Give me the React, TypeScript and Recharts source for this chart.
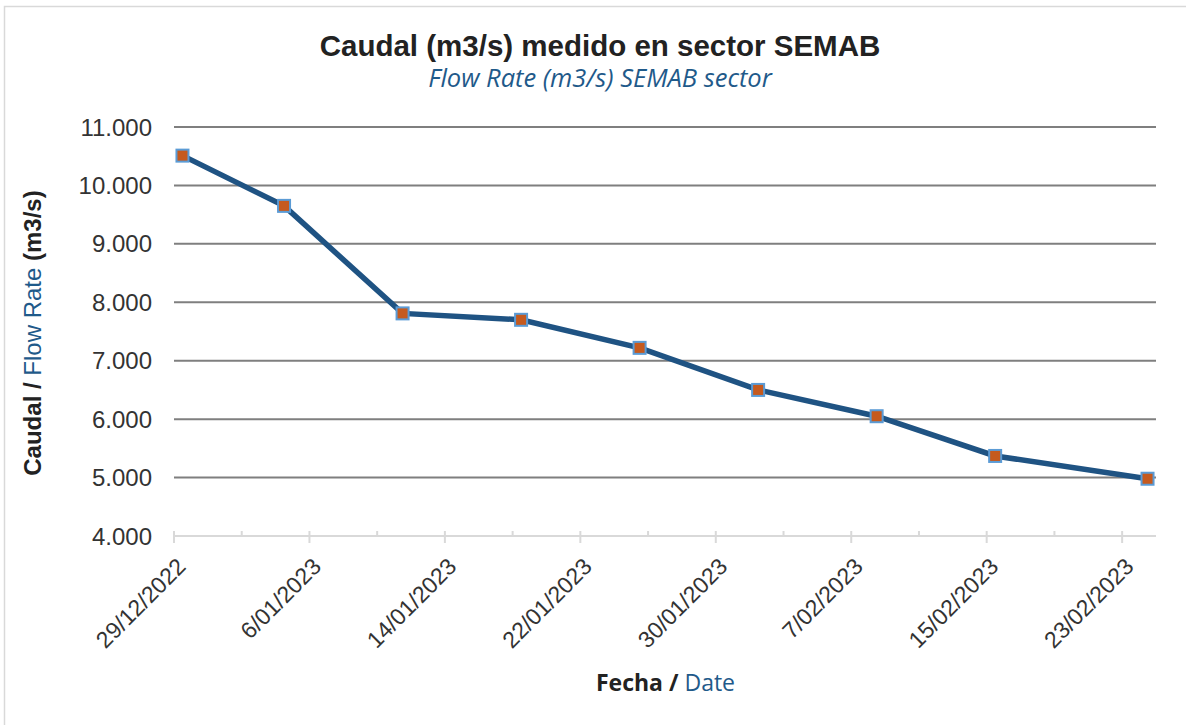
import React from 'react';
import { LineChart, Line, XAxis, YAxis, CartesianGrid } from 'recharts';

const sampleDates = ['29/12/2022', '4/01/2023', '11/01/2023', '18/01/2023', '25/01/2023', '1/02/2023', '8/02/2023', '15/02/2023', '24/02/2023'];
const flowValues = [10510, 9650, 7810, 7700, 7220, 6500, 6050, 5370, 4980];
const axisStart = '29/12/2022';
const axisEnd = '25/02/2023';
const majorTickLabels = ['29/12/2022', '6/01/2023', '14/01/2023', '22/01/2023', '30/01/2023', '7/02/2023', '15/02/2023', '23/02/2023'];
const yTicks = [4000, 5000, 6000, 7000, 8000, 9000, 10000, 11000];

const parseDate = (s: string) => {
  const [d, m, y] = s.split('/').map(Number);
  return Date.UTC(y, m - 1, d);
};
const dayOffset = (s: string) => (parseDate(s) - parseDate(axisStart)) / 86400000;
const totalDays = dayOffset(axisEnd);

const data = sampleDates.map((d, i) => ({ day: dayOffset(d) + 0.5, v: flowValues[i] }));
const xTicks: number[] = [];
for (let t = 0; t <= totalDays - 2; t += 4) xTicks.push(t);

const fmt = (v: number) => {
  const s = String(Math.round(v));
  return s.replace(/\B(?=(\d{3})+(?!\d))/g, '.');
};

const AXIS_GRAY = '#D9D9D9';
const FONT = '"Liberation Sans", Arial, sans-serif';
const FONT2 = '"Open Sans", "Noto Sans", sans-serif';
const BLUE_TXT = '#1F5A8A';

const XTick = (props: any) => {
  const { x, y, payload } = props;
  const v = payload.value as number;
  const major = v % 8 === 0;
  const label = major ? majorTickLabels[v / 8] : null;
  const px = x + 13;
  const py = y + 32;
  return (
    <g>
      <line x1={x} x2={x} y1={y - 5} y2={major ? y + 7 : y} stroke={AXIS_GRAY} strokeWidth={2} />
      {label && (
        <text x={px} y={py} textAnchor="end" transform={`rotate(-45 ${px} ${py})`} fontFamily={FONT} fontSize={23} fill="#333">
          {label}
        </text>
      )}
    </g>
  );
};

const SquareDot = (props: any) => {
  const { cx, cy, index } = props;
  if (cx == null || cy == null) return <g key={index} />;
  return <rect key={index} x={cx - 6} y={cy - 6} width={12} height={12} fill="#C55A1E" stroke="#5B9BD5" strokeWidth={2} />;
};

export default function App() {
  return (
    <div style={{ position: 'absolute', left: 0, top: 0, width: 1186, height: 725, background: '#fff', overflow: 'hidden' }}>
      <LineChart width={1186} height={725} data={data} margin={{ top: 127, right: 30, bottom: 0, left: 0 }}>
        <CartesianGrid vertical={false} stroke="#7F7F7F" strokeWidth={2} />
        <YAxis
          type="number"
          domain={[4000, 11000]}
          ticks={yTicks}
          interval={0}
          width={174}
          axisLine={false}
          tickLine={false}
          tickSize={0}
          tickMargin={22}
          tickFormatter={fmt}
          tick={{ fontFamily: FONT, fontSize: 24, fill: '#333' }}
        />
        <XAxis
          type="number"
          dataKey="day"
          domain={[0, totalDays]}
          ticks={xTicks}
          interval={0}
          height={189}
          axisLine={{ stroke: AXIS_GRAY, strokeWidth: 2 }}
          tickLine={false}
          tickSize={0}
          tickMargin={0}
          tick={<XTick />}
        />
        <Line type="linear" dataKey="v" stroke="#1F5383" strokeWidth={5.5} dot={<SquareDot />} activeDot={false} isAnimationActive={false} />
      </LineChart>
      <svg width={1186} height={725} style={{ position: 'absolute', left: 0, top: 0, pointerEvents: 'none' }}>
        <rect x={4.5} y={6.5} width={1300} height={900} fill="none" stroke={AXIS_GRAY} strokeWidth={1.5} />
        <text x={600} y={56} textAnchor="middle" fontFamily={FONT} fontWeight="bold" fontSize={29.5} fill="#222">
          Caudal (m3/s) medido en sector SEMAB
        </text>
        <text x={600} y={87} textAnchor="middle" fontFamily={FONT2} fontStyle="italic" fontSize={25.5} fill={BLUE_TXT}>
          Flow Rate (m3/s) SEMAB sector
        </text>
        <text x={0} y={0} transform="translate(41 333) rotate(-90)" textAnchor="middle" fontFamily={FONT} fontSize={24} fill="#222">
          <tspan fontWeight="bold">Caudal / </tspan>
          <tspan fill={BLUE_TXT}>Flow Rate</tspan>
          <tspan fontWeight="bold"> (m3/s)</tspan>
        </text>
        <text x={665.5} y={691} textAnchor="middle" fontFamily={FONT2} fontSize={23} fill="#222">
          <tspan fontWeight="bold">Fecha / </tspan>
          <tspan fill={BLUE_TXT}>Date</tspan>
        </text>
      </svg>
    </div>
  );
}
